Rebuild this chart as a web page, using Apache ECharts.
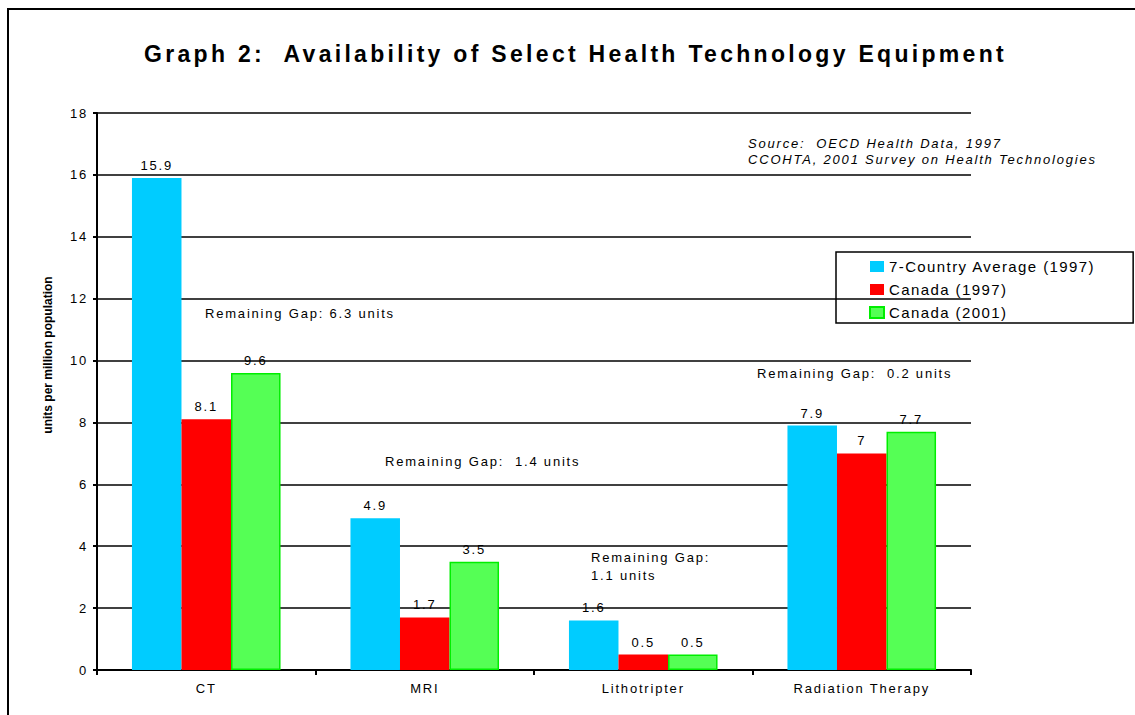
<!DOCTYPE html>
<html>
<head>
<meta charset="utf-8">
<script src="https://cdn.jsdelivr.net/npm/echarts@6/dist/echarts.min.js"></script>
<style>
  html, body { margin: 0; padding: 0; background: #fff; }
  #chart { width: 1135px; height: 715px; }
  #chart svg text { letter-spacing: 1.8px; white-space: pre; }
  #chart svg text[style*="bold"] { letter-spacing: 0px; }
  #chart svg text[style*="23px"] { letter-spacing: 3.3px; }
  #chart svg text[style*="15px"] { letter-spacing: 1.4px; }
</style>
</head>
<body>
<div id="chart"></div>
<script>
const categories = ['CT', 'MRI', 'Lithotripter', 'Radiation Therapy'];
const avg7Country1997 = [15.9, 4.9, 1.6, 7.9];
const canada1997 = [8.1, 1.7, 0.5, 7];
const canada2001 = [9.6, 3.5, 0.5, 7.7];
const seriesNames = ['7-Country Average (1997)', 'Canada (1997)', 'Canada (2001)'];
const yMin = 0, yMax = 18, yStep = 2;

const FONT = '"Liberation Sans", Arial, sans-serif';
const chart = echarts.init(document.getElementById('chart'), null, { renderer: 'svg' });

const labelCfg = { show: true, position: 'top', distance: 6, color: '#000', fontSize: 13, fontFamily: FONT };

const option = {
  backgroundColor: '#fff',
  animation: false,
  title: {
    text: 'Graph 2:  Availability of Select Health Technology Equipment',
    left: 144, top: 42, padding: 0,
    textStyle: { fontSize: 23, fontWeight: 'bold', color: '#000', fontFamily: FONT }
  },
  legend: {
    orient: 'vertical',
    left: 836, top: 252,
    padding: [7, 71, 3, 33],
    itemWidth: 14, itemHeight: 11, itemGap: 8,
    borderColor: '#000', borderWidth: 1.5,
    icon: 'rect',
    textStyle: { fontSize: 15, color: '#000', fontFamily: FONT },
    data: seriesNames
  },
  grid: { left: 97, right: 164, top: 113, bottom: 45, containLabel: false },
  xAxis: {
    type: 'category',
    data: categories,
    axisLine: { show: true, lineStyle: { color: '#000', width: 2 } },
    axisTick: { show: true, alignWithLabel: false, length: 5, lineStyle: { color: '#000', width: 2 } },
    axisLabel: { margin: 12, fontSize: 13, color: '#000', fontFamily: FONT },
    splitLine: { show: false }
  },
  yAxis: {
    type: 'value',
    min: yMin, max: yMax, interval: yStep,
    axisLine: { show: true, lineStyle: { color: '#000', width: 2 } },
    axisTick: { show: true, length: 4, lineStyle: { color: '#000', width: 2 } },
    axisLabel: { margin: 9, fontSize: 13, color: '#000', fontFamily: FONT },
    splitLine: { show: true, lineStyle: { color: '#000', width: 1.5 } }
  },
  series: [
    {
      name: seriesNames[0], type: 'bar', data: avg7Country1997,
      barGap: '0%', barCategoryGap: '32%',
      itemStyle: { color: '#00ccff' },
      label: labelCfg
    },
    {
      name: seriesNames[1], type: 'bar', data: canada1997,
      barGap: '0%', barCategoryGap: '32%',
      itemStyle: { color: '#ff0000' },
      label: labelCfg
    },
    {
      name: seriesNames[2], type: 'bar', data: canada2001,
      barGap: '0%', barCategoryGap: '32%',
      itemStyle: { color: '#55ff55', borderColor: '#00ee00', borderWidth: 1.5 },
      label: labelCfg
    }
  ],
  graphic: [
    { type: 'rect', z: -10, silent: true,
      shape: { x: 8, y: 9, width: 1400, height: 900 },
      style: { fill: 'none', stroke: '#000', lineWidth: 2 } },
    { type: 'text', x: 48, y: 355, rotation: Math.PI / 2,
      style: { text: 'units per million population', font: 'bold 12px ' + FONT, fill: '#000',
               textAlign: 'center', textVerticalAlign: 'middle' } },
    { type: 'text', x: 748, y: 143,
      style: { text: 'Source:  OECD Health Data, 1997', font: 'italic 13px ' + FONT, fill: '#000',
               textAlign: 'left', textVerticalAlign: 'middle' } },
    { type: 'text', x: 748, y: 159,
      style: { text: 'CCOHTA, 2001 Survey on Health Technologies', font: 'italic 13px ' + FONT, fill: '#000',
               textAlign: 'left', textVerticalAlign: 'middle' } },
    { type: 'text', x: 205, y: 313,
      style: { text: 'Remaining Gap: 6.3 units', font: '13px ' + FONT, fill: '#000',
               textAlign: 'left', textVerticalAlign: 'middle' } },
    { type: 'text', x: 385, y: 461,
      style: { text: 'Remaining Gap:  1.4 units', font: '13px ' + FONT, fill: '#000',
               textAlign: 'left', textVerticalAlign: 'middle' } },
    { type: 'text', x: 591, y: 557,
      style: { text: 'Remaining Gap:', font: '13px ' + FONT, fill: '#000',
               textAlign: 'left', textVerticalAlign: 'middle' } },
    { type: 'text', x: 591, y: 575,
      style: { text: '1.1 units', font: '13px ' + FONT, fill: '#000',
               textAlign: 'left', textVerticalAlign: 'middle' } },
    { type: 'text', x: 757, y: 373,
      style: { text: 'Remaining Gap:  0.2 units', font: '13px ' + FONT, fill: '#000',
               textAlign: 'left', textVerticalAlign: 'middle' } }
  ]
};
chart.setOption(option);
</script>
</body>
</html>
